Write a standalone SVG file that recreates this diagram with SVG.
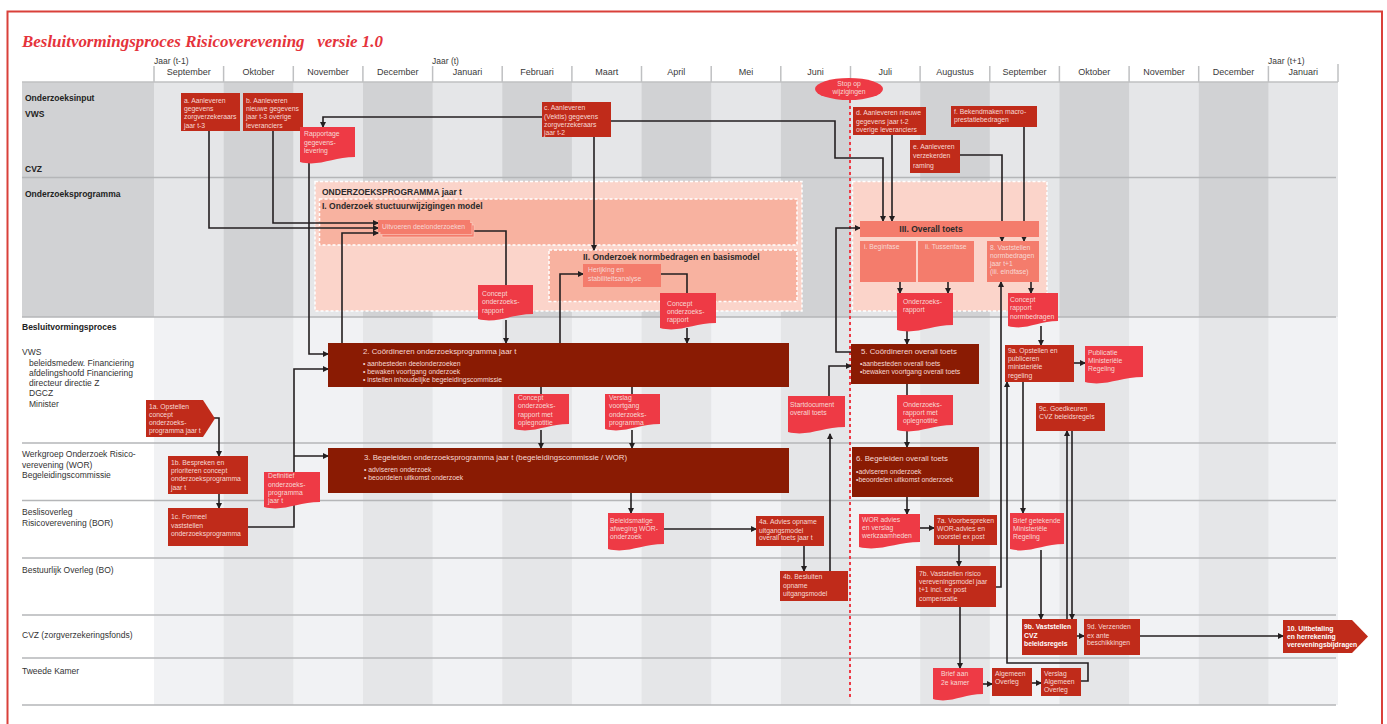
<svg xmlns="http://www.w3.org/2000/svg" width="1387" height="724" viewBox="0 0 1387 724">
<defs>
<marker id="ah" viewBox="0 0 6 6" refX="5" refY="3" markerWidth="6" markerHeight="6" markerUnits="userSpaceOnUse" orient="auto"><path d="M0,0 L6,3 L0,6 z" fill="#231f20"/></marker>
</defs>
<style>
text{font-family:"Liberation Sans",Arial,sans-serif}
.title{font-family:"Liberation Serif","Times New Roman",serif;font-style:italic;font-weight:bold;font-size:17px;fill:#e5333b}
.mo{font-size:9px;fill:#3a3a3a;text-anchor:middle}
.yr{font-size:8.5px;fill:#3a3a3a}
.lb{font-size:8.5px;fill:#333}
.lbb{font-size:8.5px;fill:#222;font-weight:bold}
.t{font-size:6.8px;fill:#f7d9d4}
.tb{font-size:6.8px;fill:#fff;font-weight:bold}
.h{font-size:8.5px;fill:#2a2a2a;font-weight:bold}
.big{font-size:7.8px;fill:#f7d9d4}
.p{fill:#c02b1a}
.m{fill:#8a1b03}
.d{fill:#ee3a45}
.s{fill:#f47c6c}
.c{stroke:#231f20;stroke-width:1.6;fill:none}
.a{marker-end:url(#ah)}
.hl{stroke:#b5b6b8;stroke-width:1.3}
.dk{fill:#d1d2d4}
.lt{fill:#e5e6e8}
.vl{fill:#f1f2f4}
.dash{stroke:#fff;stroke-width:1.5;stroke-dasharray:3 2}
</style>

<!-- frame and title -->
<rect x="7.5" y="11.5" width="1374.5" height="730" fill="#fff" stroke="#d9403a" stroke-width="2"/>
<text class="title" x="22" y="47" xml:space="preserve" textLength="361" lengthAdjust="spacingAndGlyphs">Besluitvormingsproces Risicoverevening   versie 1.0</text>

<!-- backgrounds -->
<g id="background">
<rect x="22" y="82" width="1316" height="235" class="dk"/>
<rect x="154" y="82" width="69.7" height="235" class="lt"/>
<rect x="293.3" y="82" width="69.7" height="235" class="lt"/>
<rect x="432.6" y="82" width="69.7" height="235" class="lt"/>
<rect x="571.9" y="82" width="69.7" height="235" class="lt"/>
<rect x="711.2" y="82" width="69.7" height="235" class="lt"/>
<rect x="850.5" y="82" width="69.7" height="235" class="lt"/>
<rect x="989.8" y="82" width="69.7" height="235" class="lt"/>
<rect x="1129.1" y="82" width="69.7" height="235" class="lt"/>
<rect x="1268.4" y="82" width="69.6" height="235" class="lt"/>
<rect x="154" y="317" width="1184" height="388" class="lt"/>
<rect x="154" y="317" width="69.7" height="388" class="vl"/>
<rect x="293.3" y="317" width="69.7" height="388" class="vl"/>
<rect x="432.6" y="317" width="69.7" height="388" class="vl"/>
<rect x="571.9" y="317" width="69.7" height="388" class="vl"/>
<rect x="711.2" y="317" width="69.7" height="388" class="vl"/>
<rect x="850.5" y="317" width="69.7" height="388" class="vl"/>
<rect x="989.8" y="317" width="69.7" height="388" class="vl"/>
<rect x="1129.1" y="317" width="69.7" height="388" class="vl"/>
<rect x="1268.4" y="317" width="69.6" height="388" class="vl"/>
<g stroke="#bfc0c2" stroke-width="1.5">
<line x1="154" y1="66" x2="154" y2="82"/><line x1="223.6" y1="66" x2="223.6" y2="82"/><line x1="293.3" y1="66" x2="293.3" y2="82"/><line x1="362.9" y1="66" x2="362.9" y2="82"/><line x1="432.6" y1="66" x2="432.6" y2="82"/><line x1="502.2" y1="66" x2="502.2" y2="82"/><line x1="571.9" y1="66" x2="571.9" y2="82"/><line x1="641.5" y1="66" x2="641.5" y2="82"/><line x1="711.2" y1="66" x2="711.2" y2="82"/><line x1="780.8" y1="66" x2="780.8" y2="82"/><line x1="850.5" y1="66" x2="850.5" y2="82"/><line x1="920.1" y1="66" x2="920.1" y2="82"/><line x1="989.8" y1="66" x2="989.8" y2="82"/><line x1="1059.4" y1="66" x2="1059.4" y2="82"/><line x1="1129.1" y1="66" x2="1129.1" y2="82"/><line x1="1198.7" y1="66" x2="1198.7" y2="82"/><line x1="1268.4" y1="66" x2="1268.4" y2="82"/><line x1="1338" y1="64" x2="1338" y2="82"/>
<line x1="22" y1="82" x2="1338" y2="82"/>
</g>
<g class="hl">
<line x1="22" y1="177.5" x2="1336" y2="177.5"/>
<line x1="22" y1="317" x2="1336" y2="317"/>
<line x1="22" y1="443" x2="1336" y2="443"/>
<line x1="22" y1="500.5" x2="1336" y2="500.5"/>
<line x1="22" y1="558" x2="1336" y2="558"/>
<line x1="22" y1="615" x2="1336" y2="615"/>
<line x1="22" y1="658" x2="1336" y2="658"/>
<line x1="22" y1="705" x2="1336" y2="705"/>
</g>
</g>

<!-- header labels -->
<g id="header">
<text class="yr" x="154" y="64">Jaar (t-1)</text>
<text class="yr" x="432" y="64">Jaar (t)</text>
<text class="yr" x="1268" y="64">Jaar (t+1)</text>
<text class="mo" x="188.8" y="75">September</text>
<text class="mo" x="258.4" y="75">Oktober</text>
<text class="mo" x="328.1" y="75">November</text>
<text class="mo" x="397.7" y="75">December</text>
<text class="mo" x="467.4" y="75">Januari</text>
<text class="mo" x="537" y="75">Februari</text>
<text class="mo" x="606.7" y="75">Maart</text>
<text class="mo" x="676.3" y="75">April</text>
<text class="mo" x="746" y="75">Mei</text>
<text class="mo" x="815.6" y="75">Juni</text>
<text class="mo" x="885.3" y="75">Juli</text>
<text class="mo" x="954.9" y="75">Augustus</text>
<text class="mo" x="1024.6" y="75">September</text>
<text class="mo" x="1094.2" y="75">Oktober</text>
<text class="mo" x="1163.9" y="75">November</text>
<text class="mo" x="1233.5" y="75">December</text>
<text class="mo" x="1303.2" y="75">Januari</text>
</g>

<!-- lane labels -->
<g id="lanes">
<text class="lbb" x="25" y="101">Onderzoeksinput</text>
<text class="lbb" x="25" y="117">VWS</text>
<text class="lbb" x="25" y="172">CVZ</text>
<text class="lbb" x="25" y="197">Onderzoeksprogramma</text>
<text class="lbb" x="22" y="330">Besluitvormingsproces</text>
<text class="lb" x="22" y="355">VWS</text>
<text class="lb" x="29" y="366">beleidsmedew. Financiering</text>
<text class="lb" x="29" y="376">afdelingshoofd  Financiering</text>
<text class="lb" x="29" y="386">directeur directie Z</text>
<text class="lb" x="29" y="396">DGCZ</text>
<text class="lb" x="29" y="407">Minister</text>
<text class="lb" x="22" y="457">Werkgroep Onderzoek Risico-</text>
<text class="lb" x="22" y="468">verevening (WOR)</text>
<text class="lb" x="22" y="478">Begeleidingscommissie</text>
<text class="lb" x="22" y="515">Beslisoverleg</text>
<text class="lb" x="22" y="526">Risicoverevening (BOR)</text>
<text class="lb" x="22" y="573">Bestuurlijk Overleg (BO)</text>
<text class="lb" x="22" y="638">CVZ (zorgverzekeringsfonds)</text>
<text class="lb" x="22" y="674">Tweede Kamer</text>
</g>

<!-- containers -->
<g id="onderzoeksprogramma">
<rect x="315" y="181.5" width="487" height="129.5" fill="#fbd4ca" class="dash"/>
<text class="h" x="322" y="195">ONDERZOEKSPROGRAMMA jaar t</text>
<rect x="319.5" y="199" width="477.5" height="46" fill="#f8b2a0" class="dash"/>
<text class="h" x="322" y="209">I. Onderzoek stuctuurwijzigingen model</text>
<rect x="549" y="250" width="248" height="51.5" fill="#f8b2a0" class="dash"/>
<text class="h" x="583" y="260">II. Onderzoek normbedragen en basismodel</text>
</g>
<g id="overall-container">
<rect x="852.5" y="181.5" width="194.5" height="129.5" fill="#fbd4ca" class="dash"/>
</g>

<!-- stop line -->
<g id="stop">
<line x1="850" y1="100" x2="850" y2="700" stroke="#ee3a45" stroke-width="2" stroke-dasharray="3 3"/>
<ellipse cx="849" cy="89" rx="34" ry="11" fill="#ee3a45"/>
<text class="t" x="849" y="86" text-anchor="middle">Stop op</text>
<text class="t" x="849" y="94" text-anchor="middle">wijzigingen</text>
</g>

<!-- connectors -->
<g id="connectors">
<polyline class="c a" points="209,131 209,228 378,228"/>
<polyline class="c a" points="273,131 273,223 378,223"/>
<polyline class="c a" points="342,343 342,233 378,233"/>
<polyline class="c a" points="542,117 323,117 323,127"/>
<polyline class="c a" points="309,163 309,354 328,354"/>
<polyline class="c a" points="611,121 835,121 835,158 883,158 883,221"/>
<polyline class="c a" points="594,137 594,250"/>
<polyline class="c a" points="892,135 892,221"/>
<polyline class="c a" points="960,155 1002,155 1002,241"/>
<polyline class="c a" points="1024,127 1024,241"/>
<polyline class="c" points="474,231 506,231 506,286"/>
<polyline class="c a" points="506,320 506,343"/>
<polyline class="c a" points="560,343 560,274 583,274"/>
<polyline class="c" points="661,274 687,274 687,294"/>
<polyline class="c a" points="687,328 687,343"/>
<polyline class="c" points="541,387 541,395"/>
<polyline class="c a" points="541,430 541,448"/>
<polyline class="c" points="632,387 632,395"/>
<polyline class="c a" points="632,430 632,448"/>
<polyline class="c a" points="214,418 219,418 219,456"/>
<polyline class="c a" points="219,494 219,508"/>
<polyline class="c a" points="248,527 294,527 294,369 328,369"/>
<polyline class="c a" points="294,456 328,456"/>
<polyline class="c a" points="631,493 631,513"/>
<polyline class="c a" points="664,529 756,529"/>
<polyline class="c a" points="804,546 804,571"/>
<polyline class="c a" points="830,571 830,434"/>
<polyline class="c a" points="829,397 829,366 851,366"/>
<polyline class="c a" points="851,352 836,352 836,228 860,228"/>
<polyline class="c a" points="900,282 900,293"/>
<polyline class="c a" points="948,282 948,293"/>
<polyline class="c a" points="907,330 907,344"/>
<polyline class="c" points="907,384 907,396"/>
<polyline class="c a" points="907,430 907,447"/>
<polyline class="c a" points="907,497 907,514"/>
<polyline class="c a" points="920,528 934,528"/>
<polyline class="c a" points="959,545 959,566"/>
<polyline class="c a" points="960,607 960,668"/>
<polyline class="c a" points="983,684 992,684"/>
<polyline class="c a" points="1032,683 1041,683"/>
<polyline class="c a" points="1081,681 1088,681 1088,663 1007,663 1007,382"/>
<polyline class="c a" points="996,587 1001,587 1001,282"/>
<polyline class="c a" points="1031,282 1031,293"/>
<polyline class="c a" points="1041,326 1041,345"/>
<polyline class="c a" points="1074,363 1085,363"/>
<polyline class="c a" points="1023,382 1023,513"/>
<polyline class="c a" points="1041,550 1041,619"/>
<polyline class="c a" points="1067,619 1067,431"/>
<polyline class="c a" points="1072,431 1072,619"/>
<polyline class="c a" points="1077,636 1084,636"/>
<polyline class="c a" points="1140,636 1283,636"/>
</g>

<!-- input nodes -->
<g id="node-a"><rect class="p" x="181" y="93" width="59" height="38"/><text class="t"><tspan x="184" y="103">a. Aanleveren</tspan><tspan x="184" y="111">gegevens</tspan><tspan x="184" y="119">zorgverzekeraars</tspan><tspan x="184" y="128">jaar t-3</tspan></text></g>
<g id="node-b"><rect class="p" x="243" y="93" width="60" height="38"/><text class="t"><tspan x="246" y="103">b. Aanleveren</tspan><tspan x="246" y="111">nieuwe gegevens</tspan><tspan x="246" y="119">jaar t-3 overige</tspan><tspan x="246" y="128">leveranciers</tspan></text></g>
<g id="node-rapportage"><path class="d" d="M300 127 H355 V157 C333 157 319.25 167 300 162 Z"/><text class="t"><tspan x="304" y="136">Rapportage</tspan><tspan x="304" y="145">gegevens-</tspan><tspan x="304" y="153">levering</tspan></text></g>
<g id="node-c"><rect class="p" x="542" y="102" width="69" height="35"/><text class="t"><tspan x="544" y="110">c. Aanleveren</tspan><tspan x="544" y="119">(Vektis) gegevens</tspan><tspan x="544" y="127">zorgverzekeraars</tspan><tspan x="544" y="135">jaar t-2</tspan></text></g>
<g id="node-d"><rect class="p" x="853" y="107" width="73" height="28"/><text class="t"><tspan x="856" y="115">d. Aanleveren nieuwe</tspan><tspan x="856" y="123.5">gegevens jaar t-2</tspan><tspan x="856" y="132">overige leveranciers</tspan></text></g>
<g id="node-e"><rect class="p" x="910" y="140" width="50" height="33"/><text class="t"><tspan x="913" y="149">e. Aanleveren</tspan><tspan x="913" y="158">verzekerden</tspan><tspan x="913" y="168">raming</tspan></text></g>
<g id="node-f"><rect class="p" x="951" y="106" width="86" height="21"/><text class="t"><tspan x="954" y="114">f. Bekendmaken macro-</tspan><tspan x="954" y="122">prestatiebedragen</tspan></text></g>

<!-- onderzoeksprogramma nodes -->
<g id="node-uitvoeren">
<rect x="382" y="225" width="92" height="12" fill="#f47c6c" stroke="#fbd0c5" stroke-width="0.6"/>
<rect x="380" y="222.5" width="92" height="12" fill="#f47c6c" stroke="#fbd0c5" stroke-width="0.6"/>
<rect class="s" x="378" y="220" width="92" height="12"/>
<text class="t" x="382" y="228.5">Uitvoeren deelonderzoeken</text>
</g>
<g id="node-herijking"><rect class="s" x="583" y="264" width="78" height="23"/><text class="t"><tspan x="588" y="272">Herijking en</tspan><tspan x="588" y="281">stabiliteitsanalyse</tspan></text></g>
<g id="node-concept1"><path class="d" d="M478 285 H533 V314 C511 314 497.25 324 478 319 Z"/><text class="t"><tspan x="482" y="296">Concept</tspan><tspan x="482" y="304">onderzoeks-</tspan><tspan x="482" y="313">rapport</tspan></text></g>
<g id="node-concept2"><path class="d" d="M660 293 H716 V323 C693.6 323 679.6 333 660 328 Z"/><text class="t"><tspan x="667" y="306">Concept</tspan><tspan x="667" y="314">onderzoeks-</tspan><tspan x="667" y="322">rapport</tspan></text></g>
<g id="node-overall"><rect class="s" x="860" y="221" width="179" height="16"/><text class="h" x="931" y="231.5" text-anchor="middle">III. Overall toets</text></g>
<g id="node-beginfase"><rect class="s" x="860" y="241" width="56" height="41"/><text class="t" x="864" y="249">i. Beginfase</text></g>
<g id="node-tussenfase"><rect class="s" x="918" y="241" width="56" height="41"/><text class="t" x="925" y="249">ii. Tussenfase</text></g>
<g id="node-8"><rect class="s" x="987" y="241" width="52" height="41"/><text class="t"><tspan x="990" y="250">8. Vaststellen</tspan><tspan x="990" y="258">normbedragen</tspan><tspan x="990" y="266">jaar t+1</tspan><tspan x="990" y="274">(iii. eindfase)</tspan></text></g>
<g id="node-orapport"><path class="d" d="M897 293 H953 V325 C930.6 325 916.6 335 897 330 Z"/><text class="t"><tspan x="903" y="304">Onderzoeks-</tspan><tspan x="903" y="312">rapport</tspan></text></g>
<g id="node-crnorm"><path class="d" d="M1008 293 H1058 V321 C1038 321 1025.5 331 1008 326 Z"/><text class="t"><tspan x="1010" y="302">Concept</tspan><tspan x="1010" y="310">rapport</tspan><tspan x="1010" y="319">normbedragen</tspan></text></g>

<!-- besluitvorming nodes -->
<g id="node-1a"><polygon class="p" points="146,400 203,400 215,418.5 203,437 146,437"/><text class="t"><tspan x="149" y="409">1a. Opstellen</tspan><tspan x="149" y="417">concept</tspan><tspan x="149" y="425">onderzoeks-</tspan><tspan x="149" y="433">programma jaar t</tspan></text></g>
<g id="node-1b"><rect class="p" x="168" y="456" width="80" height="38"/><text class="t"><tspan x="171" y="465">1b. Bespreken en</tspan><tspan x="171" y="473">prioriteren concept</tspan><tspan x="171" y="481">onderzoeksprogramma</tspan><tspan x="171" y="489.5">jaar t</tspan></text></g>
<g id="node-1c"><rect class="p" x="168" y="508" width="80" height="38"/><text class="t"><tspan x="171" y="519">1c. Formeel</tspan><tspan x="171" y="528">vaststellen</tspan><tspan x="171" y="536">onderzoeksprogramma</tspan></text></g>
<g id="node-definitief"><path class="d" d="M264 472 H320 V502 C297.6 502 283.6 512 264 507 Z"/><text class="t"><tspan x="268" y="478">Definitief</tspan><tspan x="268" y="486.5">onderzoeks-</tspan><tspan x="268" y="494.5">programma</tspan><tspan x="268" y="503">jaar t</tspan></text></g>
<g id="node-2"><rect class="m" x="328" y="343" width="461" height="44"/><text class="big" x="363" y="354">2. Coördineren onderzoeksprogramma jaar t</text><text class="t"><tspan x="363" y="366">• aanbesteden deelonderzoeken</tspan><tspan x="363" y="374">• bewaken voortgang onderzoek</tspan><tspan x="363" y="382">• instellen inhoudelijke begeleidingscommissie</tspan></text></g>
<g id="node-cromo"><path class="d" d="M514 394 H569 V424 C547 424 533.25 434 514 429 Z"/><text class="t"><tspan x="518" y="400">Concept</tspan><tspan x="518" y="408">onderzoeks-</tspan><tspan x="518" y="417">rapport met</tspan><tspan x="518" y="425">oplegnotitie</tspan></text></g>
<g id="node-verslagvoortgang"><path class="d" d="M605 394 H660 V424 C638 424 624.25 434 605 429 Z"/><text class="t"><tspan x="609" y="400">Verslag</tspan><tspan x="609" y="408">voortgang</tspan><tspan x="609" y="417">onderzoeks-</tspan><tspan x="609" y="425">programma</tspan></text></g>
<g id="node-3"><rect class="m" x="328" y="448" width="461" height="45"/><text class="big" x="364" y="460">3. Begeleiden onderzoeksprogramma jaar t (begeleidingscommissie / WOR)</text><text class="t"><tspan x="364" y="472">• adviseren onderzoek</tspan><tspan x="364" y="480">• beoordelen uitkomst onderzoek</tspan></text></g>
<g id="node-beleidsmatige"><path class="d" d="M608 513 H664 V544 C641.6 544 627.6 554 608 549 Z"/><text class="t"><tspan x="610" y="522.5">Beleidsmatige</tspan><tspan x="610" y="531">afweging WOR-</tspan><tspan x="610" y="539">onderzoek</tspan></text></g>
<g id="node-4a"><rect class="p" x="756" y="516" width="68" height="30"/><text class="t"><tspan x="759" y="524">4a. Advies opname</tspan><tspan x="759" y="532.5">uitgangsmodel</tspan><tspan x="759" y="540">overall toets jaar t</tspan></text></g>
<g id="node-4b"><rect class="p" x="780" y="571" width="68" height="30"/><text class="t"><tspan x="783" y="579">4b. Besluiten</tspan><tspan x="783" y="587.5">opname</tspan><tspan x="783" y="596">uitgangsmodel</tspan></text></g>
<g id="node-startdocument"><path class="d" d="M788 396 H845 V427 C822.2 427 808 437 788 432 Z"/><text class="t"><tspan x="790" y="407">Startdocument</tspan><tspan x="790" y="415">overall toets</tspan></text></g>
<g id="node-5"><rect class="m" x="851" y="344" width="128" height="40"/><text class="big" x="861" y="354">5. Coördineren overall toets</text><text class="t"><tspan x="860" y="366">•aanbesteden overall toets</tspan><tspan x="860" y="374">•bewaken voortgang overall toets</tspan></text></g>
<g id="node-oromo"><path class="d" d="M897 395 H953 V425 C930.6 425 916.6 435 897 430 Z"/><text class="t"><tspan x="903" y="406.5">Onderzoeks-</tspan><tspan x="903" y="414.5">rapport met</tspan><tspan x="903" y="422.5">oplegnotitie</tspan></text></g>
<g id="node-6"><rect class="m" x="852" y="447" width="127" height="50"/><text class="big" x="856" y="461">6. Begeleiden overall toets</text><text class="t"><tspan x="856" y="474">•adviseren onderzoek</tspan><tspan x="856" y="482">•beoordelen uitkomst onderzoek</tspan></text></g>
<g id="node-woradvies"><path class="d" d="M859 514 H920 V542 C895.6 542 880.35 552 859 547 Z"/><text class="t"><tspan x="862" y="522">WOR advies</tspan><tspan x="862" y="530">en verslag</tspan><tspan x="862" y="538">werkzaamheden</tspan></text></g>
<g id="node-7a"><rect class="p" x="934" y="515" width="63" height="30"/><text class="t"><tspan x="937" y="523">7a. Voorbespreken</tspan><tspan x="937" y="531">WOR-advies en</tspan><tspan x="937" y="539">voorstel ex post</tspan></text></g>
<g id="node-7b"><rect class="p" x="916" y="566" width="80" height="41"/><text class="t"><tspan x="919" y="576">7b. Vaststellen risico</tspan><tspan x="919" y="584">vereveningsmodel jaar</tspan><tspan x="919" y="592">t+1 incl. ex post</tspan><tspan x="919" y="601">compensatie</tspan></text></g>
<g id="node-brief2e"><path class="d" d="M933 668 H983 V694 C963 694 950.5 704 933 699 Z"/><text class="t"><tspan x="941" y="676">Brief aan</tspan><tspan x="941" y="685">2e kamer</tspan></text></g>
<g id="node-ao"><rect class="p" x="992" y="668" width="40" height="28"/><text class="t"><tspan x="995" y="676">Algemeen</tspan><tspan x="995" y="684">Overleg</tspan></text></g>
<g id="node-verslagao"><rect class="p" x="1041" y="668" width="40" height="28"/><text class="t"><tspan x="1044" y="676">Verslag</tspan><tspan x="1044" y="684">Algemeen</tspan><tspan x="1044" y="692">Overleg</tspan></text></g>
<g id="node-9a"><rect class="p" x="1005" y="345" width="69" height="37"/><text class="t"><tspan x="1008" y="352.5">9a. Opstellen en</tspan><tspan x="1008" y="361">publiceren</tspan><tspan x="1008" y="369">ministeriële</tspan><tspan x="1008" y="377.5">regeling</tspan></text></g>
<g id="node-publicatie"><path class="d" d="M1085 346 H1143 V377 C1119.8 377 1105.3 387 1085 382 Z"/><text class="t"><tspan x="1088" y="355">Publicatie</tspan><tspan x="1088" y="363">Ministeriële</tspan><tspan x="1088" y="371">Regeling</tspan></text></g>
<g id="node-9c"><rect class="p" x="1036" y="403" width="69" height="28"/><text class="t"><tspan x="1039" y="411">9c. Goedkeuren</tspan><tspan x="1039" y="419">CVZ beleidsregels</tspan></text></g>
<g id="node-briefgetekend"><path class="d" d="M1010 513 H1064 V544 C1042.4 544 1028.9 554 1010 549 Z"/><text class="t"><tspan x="1013" y="523">Brief getekende</tspan><tspan x="1013" y="531">Ministeriële</tspan><tspan x="1013" y="539">Regeling</tspan></text></g>
<g id="node-9b"><rect class="p" x="1022" y="619" width="55" height="36"/><text class="tb"><tspan x="1024" y="629">9b. Vaststellen</tspan><tspan x="1024" y="637.5">CVZ</tspan><tspan x="1024" y="646">beleidsregels</tspan></text></g>
<g id="node-9d"><rect class="p" x="1084" y="619" width="56" height="36"/><text class="t"><tspan x="1087" y="629">9d. Verzenden</tspan><tspan x="1087" y="637.5">ex ante</tspan><tspan x="1087" y="645">beschikkingen</tspan></text></g>
<g id="node-10"><polygon class="p" points="1283,620 1352,620 1368,636.5 1352,653 1283,653"/><text class="tb"><tspan x="1287" y="631">10. Uitbetaling</tspan><tspan x="1287" y="639">en herrekening</tspan><tspan x="1287" y="647">vereveningsbijdragen</tspan></text></g>
</svg>
